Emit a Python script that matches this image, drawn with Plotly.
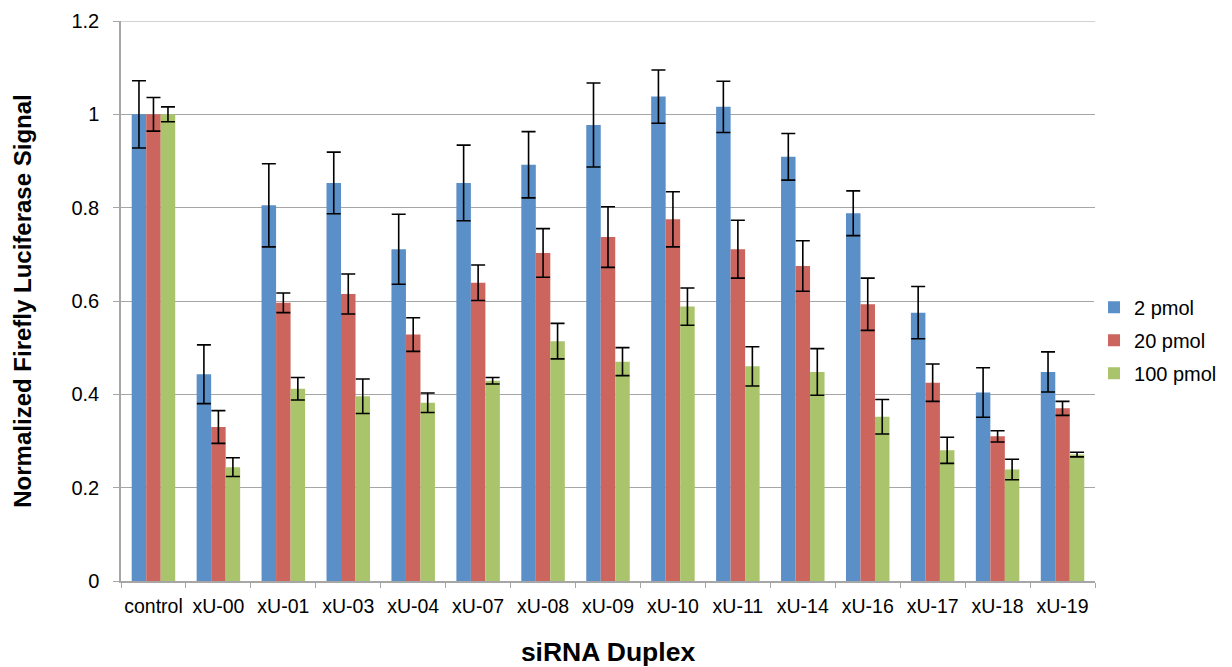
import plotly.graph_objects as go

categories = ["control", "xU-00", "xU-01", "xU-03", "xU-04", "xU-07", "xU-08", "xU-09",
              "xU-10", "xU-11", "xU-14", "xU-16", "xU-17", "xU-18", "xU-19"]

pmol2 = [1.0, 0.443, 0.805, 0.853, 0.711, 0.853, 0.892, 0.977, 1.038, 1.016, 0.909, 0.788, 0.575, 0.404, 0.448]
pmol2_err = [0.072, 0.063, 0.089, 0.066, 0.075, 0.081, 0.071, 0.090, 0.057, 0.055, 0.050, 0.048, 0.056, 0.053, 0.043]

pmol20 = [1.0, 0.330, 0.596, 0.615, 0.528, 0.639, 0.703, 0.737, 0.775, 0.711, 0.675, 0.593, 0.425, 0.310, 0.370]
pmol20_err = [0.036, 0.035, 0.021, 0.043, 0.036, 0.038, 0.052, 0.065, 0.059, 0.062, 0.054, 0.056, 0.040, 0.012, 0.015]

pmol100 = [1.0, 0.244, 0.412, 0.396, 0.382, 0.429, 0.514, 0.470, 0.588, 0.460, 0.448, 0.352, 0.280, 0.239, 0.271]
pmol100_err = [0.016, 0.020, 0.024, 0.037, 0.021, 0.007, 0.038, 0.030, 0.040, 0.042, 0.050, 0.037, 0.028, 0.022, 0.005]

y_ticks = [0, 0.2, 0.4, 0.6, 0.8, 1.0, 1.2]
y_ticktext = ["0", "0.2", "0.4", "0.6", "0.8", "1", "1.2"]

series = [
    ("2 pmol", pmol2, pmol2_err, "#5B8FC7"),
    ("20 pmol", pmol20, pmol20_err, "#CB655D"),
    ("100 pmol", pmol100, pmol100_err, "#AAC46B"),
]

fig = go.Figure()
for name, vals, errs, color in series:
    fig.add_trace(go.Bar(
        x=categories, y=vals, name=name, legendgroup=name,
        marker=dict(color=color, line=dict(width=0)),
        error_y=dict(type="data", array=errs, visible=True,
                     color="black", thickness=1.6, width=7),
    ))

# top gridline at the axis maximum (plotly omits a gridline on the plot edge)
fig.add_shape(type="line", xref="paper", x0=0, x1=1, yref="y", y0=y_ticks[-1], y1=y_ticks[-1],
              line=dict(color="#A6A6A6", width=1), layer="below")

font_family = "Liberation Sans, Arial, sans-serif"

fig.update_layout(
    width=1224, height=659,
    margin=dict(l=113, r=137, t=13, b=86, autoexpand=False),
    paper_bgcolor="white", plot_bgcolor="white",
    barmode="group", bargap=0.33, bargroupgap=0,
    font=dict(family=font_family, size=20, color="black"),
    legend=dict(x=0.999, y=0.43, xanchor="left", yanchor="middle",
                font=dict(size=20), itemwidth=30, tracegroupgap=4),
    xaxis=dict(
        title=dict(text="<b>siRNA Duplex</b>", font=dict(size=26.5), standoff=29),
        automargin=False, tickangle=0,
        showline=True, linecolor="#A6A6A6", linewidth=1.5,
        ticks="outside", tickson="boundaries", ticklen=5, tickcolor="#A6A6A6",
        ticklabelstandoff=7,
        showgrid=False, tickfont=dict(size=19.5),
    ),
    yaxis=dict(
        title=dict(text="<b>Normalized Firefly Luciferase Signal</b>", font=dict(size=24), standoff=33),
        automargin=False,
        range=[0, 1.2], tickmode="array", tickvals=y_ticks, ticktext=y_ticktext,
        ticklabeloverflow="allow",
        showline=True, linecolor="#A6A6A6", linewidth=1.5,
        ticks="outside", ticklen=6, tickcolor="#A6A6A6",
        ticklabelstandoff=10,
        showgrid=True, gridcolor="#A6A6A6", gridwidth=1,
        tickfont=dict(size=20), zeroline=False,
    ),
)

fig.write_html("out.html")
